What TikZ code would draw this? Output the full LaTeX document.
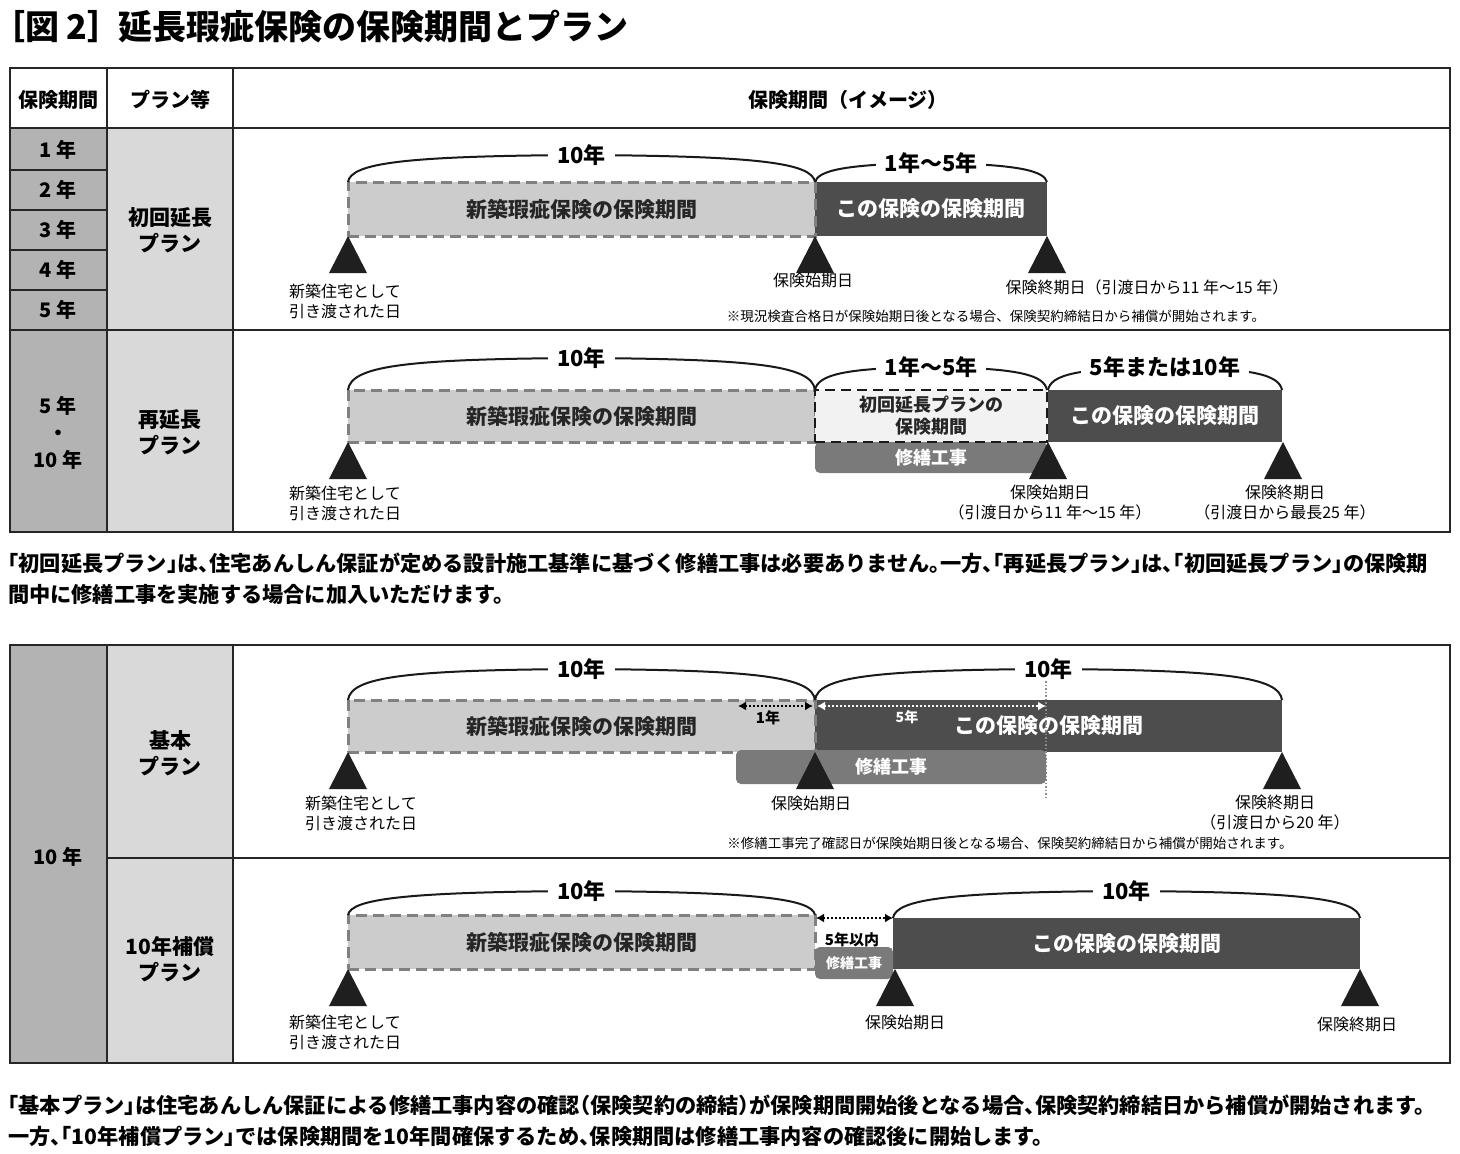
\documentclass[tikz,border=0pt]{standalone}
\usepackage{fontspec}
\setmainfont{Noto Sans CJK JP}
\newfontfamily\jph{Noto Sans CJK JP}[RawFeature={+halt}]
\usetikzlibrary{arrows.meta,calc}
\definecolor{cA}{HTML}{B3B3B3}
\definecolor{cB}{HTML}{D9D9D9}
\definecolor{lbox}{HTML}{CCCCCC}
\definecolor{dbox}{HTML}{4D4D4D}
\definecolor{rbox}{HTML}{7A7A7A}
\definecolor{dashc}{HTML}{808080}
\newcommand\fz[2]{\fontsize{#1pt}{#2pt}\selectfont}
\newcommand\brc[6]{%
  \draw[bracel] (#2,#4) .. controls ({#2+3},{#5+8}) and ({#2+0.12*(#3-#2)},{#5+1}) .. ({(#2+#3)/2},#5)
     .. controls ({#3-0.12*(#3-#2)},{#5+1}) and ({#3-3},{#5+8}) .. (#3,#4);
  \node[brl] (#1) at ({(#2+#3)/2},#5) {#6};}
\newcommand\trimark[2]{\fill[trif] (#1,#2) -- ({#1-19},{#2+37}) -- ({#1+19},{#2+37}) -- cycle;}
\tikzset{
  tline/.style={line width=2pt, draw=black!85},
  hdr/.style={font=\fz{20}{24}\bfseries},
  yr/.style={font=\fz{20}{24}\bfseries},
  plan/.style={font=\fz{21}{26}\bfseries, align=center},
  lbx/.style={draw=dashc, dash pattern=on 11pt off 6pt, line width=3pt, fill=lbox, inner sep=0, font=\fz{21}{25}\bfseries, text=black!85},
  dbx/.style={fill=dbox, inner sep=0, text=white, font=\fz{21}{25}\bfseries},
  rbx/.style={fill=rbox, rounded corners=5pt, inner sep=0, text=white, font=\fz{18}{22}\bfseries},
  fbx/.style={draw=black!90, dash pattern=on 10pt off 6pt, line width=2.5pt, fill=black!5, inner sep=0, font=\fz{18}{22}\bfseries, align=center, text=black!85},
  brl/.style={fill=white, inner xsep=9pt, inner ysep=1pt, font=\fz{22}{26}\bfseries},
  bracel/.style={line width=2pt, draw=black!90},
  trif/.style={fill=black!88},
  lab/.style={font=\fz{16}{20}, align=center, inner sep=0},
  notetx/.style={font=\fz{13.5}{16}, inner sep=0},
  para/.style={font=\jph\fz{21.2}{24}\bfseries, anchor=west, inner sep=0},
  darr/.style={line width=2.5pt, dash pattern=on 2pt off 2pt, {Latex[length=8pt,width=9pt]}-{Latex[length=8pt,width=9pt]}},
}
\begin{document}
\begin{tikzpicture}[x=1pt,y=-1pt]
\useasboundingbox[fill=white] (0,0) rectangle (1460,1154);
% title
\node[anchor=west, inner sep=0, font=\jph\fz{34}{38}\bfseries] (title) at (8,27) {［図 2］\hspace{14pt}延長瑕疵保険の保険期間とプラン};

% ---------------- table 1
\fill[cA] (10,128) rectangle (107,532);
\fill[cB] (107,128) rectangle (233,532);
\draw[tline] (10,68) rectangle (1450,532);
\draw[tline] (10,128) -- (1450,128);
\draw[tline] (10,330) -- (1450,330);
\draw[tline] (107,68) -- (107,532);
\draw[tline] (233,68) -- (233,532);
\foreach \yy in {170,210,250,290} \draw[tline] (10,\yy) -- (107,\yy);
\node[hdr] (h1) at (58,100) {保険期間};
\node[hdr] (h2) at (170,100) {プラン等};
\node[hdr] (h3) at (848,100) {保険期間（イメージ）};
\node[yr] (y1) at (58,150) {1 年};
\node[yr] (y2) at (58,190) {2 年};
\node[yr] (y3) at (58,230) {3 年};
\node[yr] (y4) at (58,270) {4 年};
\node[yr] (y5) at (58,310) {5 年};
\node[plan] (p1) at (170,230) {初回延長\\プラン};
\node[yr, align=center, font=\fz{20}{27}\bfseries] (y6) at (58,433) {5 年\\・\\10 年};
\node[plan] (p2) at (170,432) {再延長\\プラン};

% row 1
\node[dbx, minimum width=232pt, minimum height=54pt] (db1) at (931,209) {この保険の保険期間};
\node[lbx, minimum width=467pt, minimum height=54pt] (lb1) at (581.5,209) {新築瑕疵保険の保険期間};
\brc{b11}{348}{815}{182}{155}{10年}
\brc{b12}{815}{1047}{182}{163}{1年〜5年}
\trimark{348}{236}
\trimark{815}{236}
\trimark{1047}{236}
\node[lab] (n1) at (345,301) {新築住宅として\\引き渡された日};
\node[lab] (s1) at (813,280) {保険始期日};
\node[lab] (e1) at (1147,287) {保険終期日（引渡日から11 年〜15 年）};
\node[notetx] (nt1) at (996,316) {※現況検査合格日が保険始期日後となる場合、保険契約締結日から補償が開始されます。};

% row 2
\node[rbx, minimum width=232pt, minimum height=31pt] (rb2) at (931,457.5) {修繕工事};
\node[lbx, minimum width=467pt, minimum height=52pt] (lb2) at (581.5,416) {新築瑕疵保険の保険期間};
\node[fbx, minimum width=232pt, minimum height=52pt] (fb2) at (931,416) {初回延長プランの\\保険期間};
\node[dbx, minimum width=234pt, minimum height=52pt] (db2) at (1165,416) {この保険の保険期間};
\brc{b21}{348}{815}{390}{358}{10年}
\brc{b22}{815}{1047}{390}{367}{1年〜5年}
\brc{b23}{1048}{1282}{390}{367}{5年または10年}
\trimark{348}{442}
\trimark{1048}{442}
\trimark{1283}{442}
\node[lab] (n2) at (345,503) {新築住宅として\\引き渡された日};
\node[lab] (s2) at (1050,503) {保険始期日\\（引渡日から11 年〜15 年）};
\node[lab] (e2) at (1285,503) {保険終期日\\（引渡日から最長25 年）};

% paragraph 1
\node[para] (t1a) at (8,563) {「初回延長プラン」は、住宅あんしん保証が定める設計施工基準に基づく修繕工事は必要ありません。一方、「再延長プラン」は、「初回延長プラン」の保険期};
\node[para] (t1b) at (8,594) {間中に修繕工事を実施する場合に加入いただけます。};

% ---------------- table 2
\fill[cA] (10,645) rectangle (107,1063);
\fill[cB] (107,645) rectangle (233,1063);
\draw[tline] (10,645) rectangle (1450,1063);
\draw[tline] (107,645) -- (107,1063);
\draw[tline] (233,645) -- (233,1063);
\draw[tline] (107,858) -- (1450,858);
\node[yr] (y7) at (58,857) {10 年};
\node[plan] (p3) at (170,753) {基本\\プラン};
\node[plan] (p4) at (170,959) {10年補償\\プラン};

% row A
\node[dbx, minimum width=467pt, minimum height=52pt] (dbA) at (1048.5,726) {この保険の保険期間};
\node[lbx, minimum width=467pt, minimum height=52pt] (lbA) at (581.5,726) {新築瑕疵保険の保険期間};
\draw[black!45, line width=1.2pt, dash pattern=on 1.5pt off 2pt] (1046,660) -- (1046,800);
\node[rbx, minimum width=310pt, minimum height=34pt] (rbA) at (891,767) {修繕工事};
\brc{bA1}{348}{815}{700}{669}{10年}
\brc{bA2}{815}{1282}{700}{669}{10年}
\coordinate (a1s) at (738,706);
\coordinate (a1e) at (813,706);
\draw[darr, black] (a1s) -- (a1e);
\node[font=\fz{15}{18}\bfseries, inner sep=0] (l1) at (768,718) {1年};
\coordinate (a2s) at (817,706);
\coordinate (a2e) at (1046,706);
\draw[darr, white] (a2s) -- (a2e);
\node[font=\fz{14}{17}\bfseries, text=white, inner sep=0] (l5) at (907,717) {5年};
\trimark{348}{752}
\trimark{815}{752}
\trimark{1282}{752}
\node[lab] (n3) at (361,813) {新築住宅として\\引き渡された日};
\node[lab] (s3) at (811,803) {保険始期日};
\node[lab] (e3) at (1275,813) {保険終期日\\（引渡日から20 年）};
\node[notetx] (nt2) at (1010,843) {※修繕工事完了確認日が保険始期日後となる場合、保険契約締結日から補償が開始されます。};

% row B
\node[lbx, minimum width=467pt, minimum height=54pt] (lbB) at (581.5,942) {新築瑕疵保険の保険期間};
\node[dbx, minimum width=467pt, minimum height=51pt] (dbB) at (1126.5,943.5) {この保険の保険期間};
\node[rbx, minimum width=78pt, minimum height=32pt, font=\fz{14}{17}\bfseries] (rbB) at (854,963) {修繕工事};
\brc{bB1}{348}{815}{915}{891}{10年}
\brc{bB2}{893}{1360}{918}{891}{10年}
\coordinate (a3s) at (816,918);
\coordinate (a3e) at (893,918);
\draw[darr, black] (a3s) -- (a3e);
\node[font=\fz{15}{18}\bfseries, inner sep=0] (l6) at (852,940) {5年以内};
\trimark{348}{969}
\trimark{895}{969}
\trimark{1360}{969}
\node[lab] (n4) at (345,1032) {新築住宅として\\引き渡された日};
\node[lab] (s4) at (905,1022) {保険始期日};
\node[lab] (e4) at (1357,1024) {保険終期日};

% paragraph 2
\node[para] (t2a) at (8,1105) {「基本プラン」は住宅あんしん保証による修繕工事内容の確認（保険契約の締結）が保険期間開始後となる場合、保険契約締結日から補償が開始されます。};
\node[para] (t2b) at (8,1136) {一方、「10年補償プラン」では保険期間を10年間確保するため、保険期間は修繕工事内容の確認後に開始します。};
\end{tikzpicture}
\end{document}
